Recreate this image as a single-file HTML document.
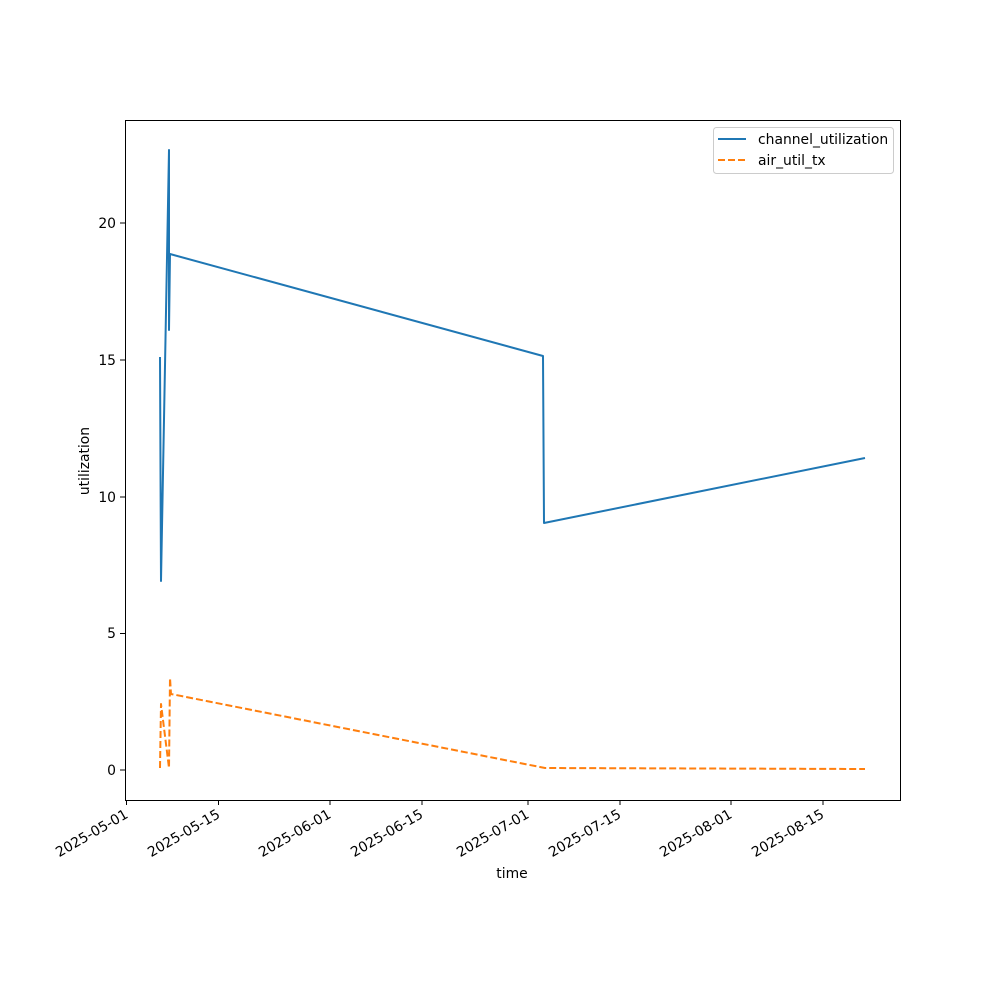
<!DOCTYPE html>
<html><head><meta charset="utf-8"><style>body{margin:0;background:#fff}svg{display:block}</style></head>
<body>
<svg width="1000" height="1000" xmlns="http://www.w3.org/2000/svg" font-family="DejaVu Sans, Liberation Sans, sans-serif" font-size="13.9">
<rect width="1000" height="1000" fill="#fff"/>
<g fill="none" stroke-width="2" stroke-linejoin="round">
<polyline stroke="#1f77b4" points="160,357 161,581 169,150 169,330 170,254 543,356 544,523 865,458"/>
<polyline stroke="#ff7f0e" stroke-dasharray="7,3" points="160,768 161,704 162,712 169,768 170,678 171,694 545,768 865,769"/>
</g>
<rect x="125.5" y="120.5" width="775" height="680" fill="none" stroke="#000" stroke-width="1"/>
<g stroke="#000">
<line x1="126.5" y1="800" x2="126.5" y2="805"/><line x1="218.5" y1="800" x2="218.5" y2="805"/>
<line x1="330" y1="800" x2="330" y2="805"/><line x1="422" y1="800" x2="422" y2="805"/>
<line x1="528" y1="800" x2="528" y2="805"/><line x1="620" y1="800" x2="620" y2="805"/>
<line x1="731" y1="800" x2="731" y2="805"/><line x1="823" y1="800" x2="823" y2="805"/>
<line x1="120" y1="770" x2="125" y2="770"/><line x1="120" y1="633.5" x2="125" y2="633.5"/>
<line x1="120" y1="497" x2="125" y2="497"/><line x1="120" y1="360" x2="125" y2="360"/>
<line x1="120" y1="223" x2="125" y2="223"/>
</g>
<g text-anchor="end">
<text transform="translate(129,817) rotate(-30)">2025-05-01</text>
<text transform="translate(221,817) rotate(-30)">2025-05-15</text>
<text transform="translate(332,817) rotate(-30)">2025-06-01</text>
<text transform="translate(424,817) rotate(-30)">2025-06-15</text>
<text transform="translate(530,817) rotate(-30)">2025-07-01</text>
<text transform="translate(622,817) rotate(-30)">2025-07-15</text>
<text transform="translate(733,817) rotate(-30)">2025-08-01</text>
<text transform="translate(825,817) rotate(-30)">2025-08-15</text>
<text x="116" y="775">0</text><text x="116" y="638">5</text>
<text x="116" y="502">10</text><text x="116" y="365">15</text><text x="116" y="228">20</text>
</g>
<text x="512" y="878" text-anchor="middle">time</text>
<text transform="translate(89,461) rotate(-90)" text-anchor="middle">utilization</text>
<rect x="713.5" y="127.5" width="180" height="46" rx="3" fill="#fff" stroke="#ccc"/>
<line x1="718" y1="139" x2="746" y2="139" stroke="#1f77b4" stroke-width="2"/>
<line x1="718" y1="160" x2="746" y2="160" stroke="#ff7f0e" stroke-width="2" stroke-dasharray="7,3"/>
<text x="758" y="144">channel_utilization</text>
<text x="758" y="165">air_util_tx</text>
</svg>
</body></html>
